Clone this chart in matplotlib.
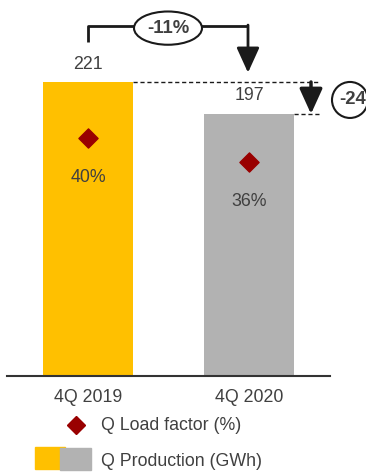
import matplotlib.pyplot as plt
from matplotlib.patches import Ellipse, Rectangle
from matplotlib.lines import Line2D

quarters = ["4Q 2019", "4Q 2020"]
production = [221, 197]          # GWh
load_factor = [40, 36]           # %
change_pct = "-11%"
change_abs = "-24"

bar_colors = ["#FFC000", "#B2B2B2"]
diamond_color = "#990000"
text_color = "#404040"
dark = "#1a1a1a"
fs = 12.8

plt.rcParams['font.family'] = ['Liberation Sans Narrow', 'Liberation Sans', 'DejaVu Sans']

fig = plt.figure(figsize=(3.66, 4.75), dpi=100)
base = 1 - 376 / 475
ax = fig.add_axes([0, base, 1, 1 - base])
ax.set_xlim(-88 / 161, (366 - 88) / 161)
ax.set_ylim(0, 376 / (294 / 221))
ax.axis('off')

x = [0, 1]
ax.bar(x, production, width=90 / 161, color=bar_colors, zorder=2)

# secondary scale for load factor diamonds
ax2 = ax.twinx()
ax2.set_ylim(0, 376 / 5.95)
ax2.axis('off')
ax2.scatter(x, load_factor, marker='D', s=95, color=diamond_color, zorder=3)
for xi, lf in zip(x, load_factor):
    ax2.text(xi, lf - 6.7, f"{lf}%", ha='center', va='center', fontsize=fs, color=text_color)

for xi, v in zip(x, production):
    ax.text(xi, v + 13.5, str(v), ha='center', va='center', fontsize=fs, color=text_color)

# baseline
ax.plot([-81 / 161, (330 - 88) / 161], [0, 0], color='#333333', lw=1.5, clip_on=False, zorder=3)

# category labels
for xi, q in zip(x, quarters):
    ax.text(xi, -16, q, ha='center', va='center', fontsize=fs, color=text_color, clip_on=False)

# bracket with percentage change
top = 263
ax.plot([0, 0, 160 / 161], [251, top, top], color=dark, lw=2, solid_capstyle='butt')
ax.annotate('', xy=(160 / 161, 228), xytext=(160 / 161, top + 0.8),
            arrowprops=dict(arrowstyle='-|>,head_width=0.5,head_length=1.1',
                            mutation_scale=14, lw=2, color=dark, shrinkA=0, shrinkB=0))
ax.add_patch(Ellipse((80 / 161, 261.5), 68 / 161, 25, facecolor='white',
                     edgecolor=dark, lw=1.5, zorder=4))
ax.text(80 / 161, 261.5, change_pct, ha='center', va='center', fontsize=fs + 0.5,
        fontweight='bold', color=text_color, zorder=5)

# dashed guides and absolute change
ax.plot([45 / 161, 232 / 161], [production[0]] * 2, color=dark, lw=1, ls=(0, (3, 2)))
ax.plot([206 / 161, 232 / 161], [production[1]] * 2, color=dark, lw=1, ls=(0, (3, 2)))
ax.annotate('', xy=(223 / 161, production[1]), xytext=(223 / 161, production[0]),
            arrowprops=dict(arrowstyle='-|>,head_width=0.5,head_length=1.1',
                            mutation_scale=14, lw=2.5, color=dark, shrinkA=0, shrinkB=0))
ax.add_patch(Ellipse((262 / 161, 207.5), 36 / 161, 36 / (294 / 221), facecolor='white',
                     edgecolor=dark, lw=1.5, zorder=4, clip_on=False))
ax.text(265 / 161, 207.5, change_abs, ha='center', va='center', fontsize=fs + 0.5,
        fontweight='bold', color=text_color, zorder=5, clip_on=False)

# legend
fig.text(101 / 366, 1 - 425 / 475, "Q Load factor (%)", ha='left', va='center',
         fontsize=fs, color=text_color)
fig.text(101 / 366, 1 - 461 / 475, "Q Production (GWh)", ha='left', va='center',
         fontsize=fs, color=text_color)
fig.add_artist(Line2D([76 / 366], [1 - 425 / 475], marker='D', markersize=9.5,
                      color=diamond_color, ls='none'))
fig.add_artist(Rectangle((35 / 366, 1 - 469 / 475), 30 / 366, 22 / 475,
                         color=bar_colors[0], transform=fig.transFigure))
fig.add_artist(Rectangle((60 / 366, 1 - 470 / 475), 31 / 366, 22 / 475,
                         color=bar_colors[1], transform=fig.transFigure))

fig.savefig("out.png", dpi=100)
